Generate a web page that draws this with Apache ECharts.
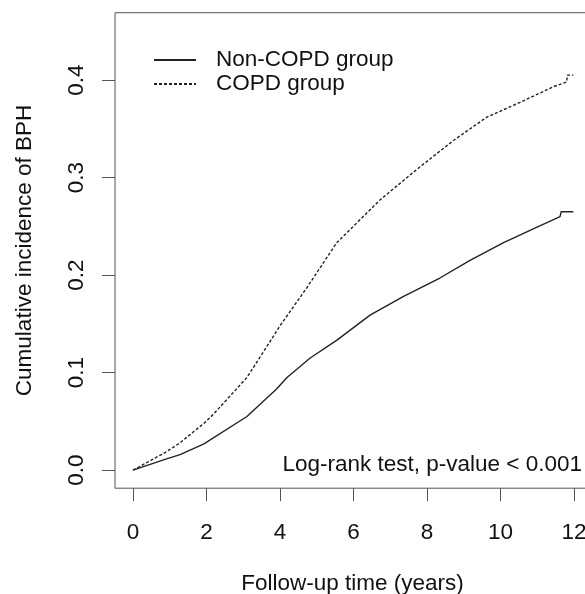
<!DOCTYPE html>
<html>
<head>
<meta charset="utf-8">
<script src="https://cdn.jsdelivr.net/npm/echarts@6/dist/echarts.min.js"></script>
<style>html,body{margin:0;padding:0;background:#fff}#c{width:585px;height:594px}</style>
</head>
<body>
<div id="c"></div>
<script>
// Data
const copdTime   = [0, 0.87, 1.28, 1.96, 2.18, 3.1, 3.73, 4.0, 4.73, 5.54, 6.72, 7.81, 8.72, 9.63, 10.53, 11.43, 11.8, 11.82, 11.98];
const copdValue  = [0, 0.018, 0.028, 0.049, 0.057, 0.095, 0.132, 0.148, 0.187, 0.233, 0.277, 0.311, 0.338, 0.362, 0.377, 0.393, 0.398, 0.405, 0.405];
const nonTime    = [0, 0.87, 1.28, 1.93, 3.1, 3.73, 3.9, 4.19, 4.82, 5.54, 6.45, 7.35, 8.35, 9.17, 10.07, 10.98, 11.62, 11.65, 11.98];
const nonValue   = [0, 0.011, 0.016, 0.027, 0.055, 0.077, 0.083, 0.095, 0.115, 0.133, 0.159, 0.178, 0.197, 0.215, 0.233, 0.249, 0.260, 0.265, 0.265];
const xTicks = [0, 2, 4, 6, 8, 10, 12];
const yTicks = [0, 0.1, 0.2, 0.3, 0.4];
const seriesNames = ['Non-COPD group', 'COPD group'];
const xTitle = 'Follow-up time (years)';
const yTitle = 'Cumulative incidence of BPH';
const note = 'Log-rank test, p-value < 0.001';

const FONT = 'Liberation Sans, Arial, sans-serif';
const FS = 22.5;
const chart = echarts.init(document.getElementById('c'), null, {renderer: 'canvas'});
const pairs = (t, v) => t.map((x, i) => [x, v[i]]);

chart.setOption({
  animation: false,
  backgroundColor: '#fff',
  grid: {left: 115, top: 12.7, width: 475, height: 475.5, outerBoundsMode: 'none', containLabel: false,
         show: true, borderColor: '#555', borderWidth: 1, backgroundColor: 'transparent'},
  xAxis: {
    type: 'value', min: -0.49, max: 12.435,
    name: xTitle, nameLocation: 'middle', nameGap: 84,
    nameTextStyle: {fontFamily: FONT, fontSize: FS, color: '#111'},
    axisLine: {show: false, onZero: false},
    splitLine: {show: false},
    axisTick: {show: true, inside: false, length: 13, lineStyle: {color: '#555', width: 1}, customValues: xTicks},
    axisLabel: {fontFamily: FONT, fontSize: FS, color: '#111', margin: 33, customValues: xTicks, formatter: v => String(v)}
  },
  yAxis: {
    type: 'value', min: -0.0185, max: 0.469,
    name: yTitle, nameLocation: 'middle', nameGap: 79, nameRotate: 90,
    nameTextStyle: {fontFamily: FONT, fontSize: FS, color: '#111'},
    axisLine: {show: false, onZero: false},
    splitLine: {show: false},
    axisTick: {show: true, inside: false, length: 13, lineStyle: {color: '#555', width: 1}, customValues: yTicks},
    axisLabel: {fontFamily: FONT, fontSize: FS, color: '#111', margin: 27, rotate: 90, customValues: yTicks, formatter: v => v.toFixed(1)}
  },
  legend: {
    orient: 'vertical', left: 153, top: 48, padding: 0, itemWidth: 42, itemHeight: 10, itemGap: 0,
    itemStyle: {color: 'transparent', borderColor: 'transparent', borderWidth: 0},
    textStyle: {fontFamily: FONT, fontSize: FS, color: '#111', lineHeight: 24, padding: [0, 0, 0, 15]},
    data: seriesNames
  },
  series: [
    {name: seriesNames[0], type: 'line', symbol: 'none', showSymbol: false, data: pairs(nonTime, nonValue),
     lineStyle: {color: '#222', width: 1.4, type: 'solid'}, itemStyle: {color: '#222'}},
    {name: seriesNames[1], type: 'line', symbol: 'none', showSymbol: false, data: pairs(copdTime, copdValue),
     lineStyle: {color: '#222', width: 1.4, type: [3, 2]}, itemStyle: {color: '#222'}}
  ],
  graphic: [{
    type: 'text', right: 3, top: 453,
    style: {text: note, fontFamily: FONT, fontSize: FS, fill: '#111'}
  }]
});
</script>
</body>
</html>
